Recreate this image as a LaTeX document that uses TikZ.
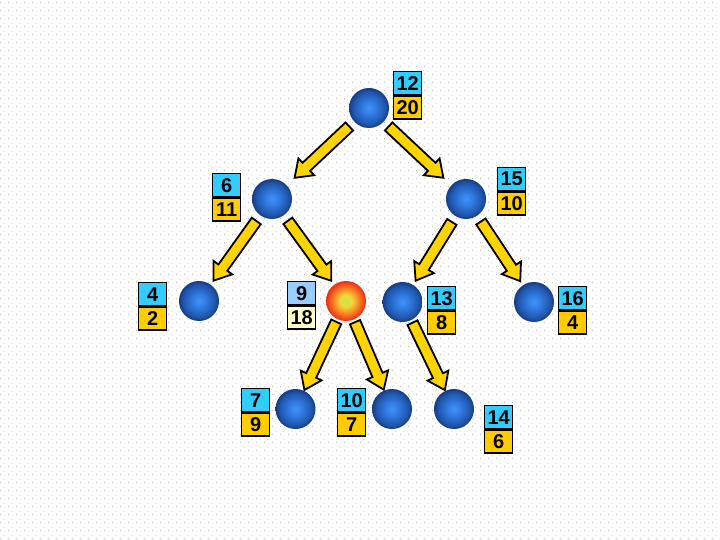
\documentclass[tikz,border=0pt]{standalone}
\usepackage{fontspec}
\newfontfamily\labfont{Liberation Sans}
\usetikzlibrary{calc,patterns}
\definecolor{cellcyan}{HTML}{33CCFF}
\definecolor{cellgold}{HTML}{FFCC00}
\definecolor{cellpaleblue}{HTML}{99CCFF}
\definecolor{cellcream}{HTML}{FFFFCC}
\definecolor{arrowyellow}{HTML}{FFD400}
\definecolor{dotgray}{HTML}{C4C4C4}
\pgfdeclarepatternformonly{bgdots}{\pgfpointorigin}{\pgfpoint{8pt}{8pt}}{\pgfpoint{8pt}{8pt}}{%
  \pgfpathrectangle{\pgfpoint{1pt}{1pt}}{\pgfpoint{1pt}{1pt}}%
  \pgfpathrectangle{\pgfpoint{5pt}{5pt}}{\pgfpoint{1pt}{1pt}}%
  \pgfusepath{fill}}
\pgfdeclareradialshading{blueball}{\pgfpoint{0bp}{0bp}}{%
  color(0bp)=(rgb,255:red,64;green,148;blue,248);
  color(10bp)=(rgb,255:red,46;green,118;blue,220);
  color(20bp)=(rgb,255:red,32;green,86;blue,172);
  color(25bp)=(rgb,255:red,22;green,60;blue,130);
  color(50bp)=(rgb,255:red,22;green,60;blue,130)}
\pgfdeclareradialshading{redball}{\pgfpoint{0bp}{0bp}}{%
  color(0bp)=(rgb,255:red,196;green,232;blue,72);
  color(7bp)=(rgb,255:red,236;green,220;blue,60);
  color(14bp)=(rgb,255:red,250;green,150;blue,40);
  color(21bp)=(rgb,255:red,244;green,80;blue,30);
  color(25bp)=(rgb,255:red,232;green,48;blue,24);
  color(50bp)=(rgb,255:red,232;green,48;blue,24)}
\tikzset{
  ballnode/.style={circle,minimum size=40pt,inner sep=0pt,shading=blueball},
  redballnode/.style={circle,minimum size=40pt,inner sep=0pt,shading=redball},
  cell/.style={draw=black,line width=1.4pt,minimum width=28pt,minimum height=23pt,
    inner sep=0pt,font=\labfont\bfseries\fontsize{20}{21}\selectfont},
  topcell/.style={cell,fill=cellcyan,anchor=north west},
  botcell/.style={cell,fill=cellgold,anchor=north},
  blockarr/.style={draw=black,line width=1.8pt,fill=arrowyellow,line join=miter}
}
% #1 source node, #2 target node, #3 tail offset, #4 tip offset
\newcommand\blockarrow[4]{%
  \coordinate (ta) at ($(#1)!#3pt!(#2)$);
  \coordinate (hd) at ($(#2)!#4pt!(#1)$);
  \coordinate (bs) at ($(hd)!16pt!(ta)$);
  \draw[blockarr] ($(ta)!5.5pt!90:(hd)$) -- ($(bs)!5.5pt!-90:(ta)$) -- ($(bs)!11.5pt!-90:(ta)$)
    -- (hd) -- ($(bs)!11.5pt!90:(ta)$) -- ($(bs)!5.5pt!90:(ta)$) -- ($(ta)!5.5pt!-90:(hd)$) -- cycle;
}
% #1 name, #2 top-left x, #3 top-left y, #4 top, #5 bottom
\newcommand\numbox[5]{%
  \node[topcell] (#1a) at (#2,#3) {#4};
  \node[botcell] (#1b) at (#1a.south) {#5};
}
\begin{document}
\begin{tikzpicture}[x=1pt,y=-1pt]
\useasboundingbox (0,0) rectangle (720,540);
\fill[white] (0,0) rectangle (720,540);
\fill[pattern=bgdots,pattern color=dotgray] (0,0) rectangle (720,540);

% nodes
\node[ballnode] (n12) at (369,108) {};
\node[ballnode] (n6) at (272,199) {};
\node[ballnode] (n15) at (466,199) {};
\node[ballnode] (n4) at (199,301) {};
\node[redballnode] (n9) at (346,301) {};
\node[ballnode] (n13) at (402.5,302) {};
\node[ballnode] (n16) at (534,302) {};
\node[ballnode] (n7) at (295.5,409) {};
\node[ballnode] (n10) at (392,409) {};
\node[ballnode] (n14) at (454,409) {};

% arrows
\blockarrow{n12}{n6}{27}{31}
\blockarrow{n12}{n15}{27}{31}
\blockarrow{n6}{n4}{27}{25}
\blockarrow{n6}{n9}{27}{25}
\blockarrow{n15}{n13}{27}{25}
\blockarrow{n15}{n16}{27}{25}
\blockarrow{n9}{n7}{23}{21}
\blockarrow{n9}{n10}{23}{21}
\blockarrow{n13}{n14}{23}{21}

% number boxes
\numbox{b12}{393}{71}{12}{20}
\numbox{b6}{212}{173}{6}{11}
\numbox{b15}{497}{167}{15}{10}
\numbox{b4}{138}{282}{4}{2}
\node[topcell,fill=cellpaleblue] (b9a) at (287,281) {9};
\node[botcell,fill=cellcream] (b9b) at (b9a.south) {18};
\numbox{b13}{427}{286}{13}{8}
\numbox{b16}{558}{286}{16}{4}
\numbox{b7}{241}{388}{7}{9}
\numbox{b10}{337}{388}{10}{7}
\numbox{b14}{484}{405}{14}{6}
\end{tikzpicture}
\end{document}
